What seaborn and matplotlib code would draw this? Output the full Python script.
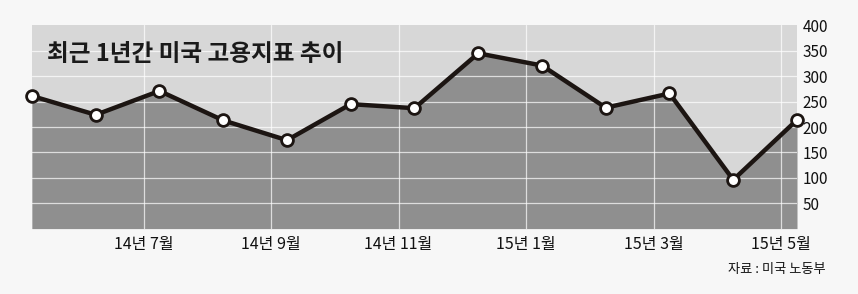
import matplotlib
matplotlib.use("Agg")
import matplotlib.pyplot as plt
import seaborn as sns
import pandas as pd
import numpy as np

months = ["14-05", "14-06", "14-07", "14-08", "14-09", "14-10", "14-11",
          "14-12", "15-01", "15-02", "15-03", "15-04", "15-05"]
values = [261, 224, 271, 213, 174, 245, 237, 345, 321, 238, 266, 96, 214]
tick_labels = ["14년 7월", "14년 9월", "14년 11월", "15년 1월", "15년 3월", "15년 5월"]
yticks = [50, 100, 150, 200, 250, 300, 350, 400]
title = "최근 1년간 미국 고용지표 추이"
source = "자료 : 미국 노동부"

sns.set_theme(style="white")
plt.rcParams['font.family'] = ['Noto Sans CJK KR', 'DejaVu Sans']

df = pd.DataFrame({"idx": np.arange(len(months)), "month": months, "value": values})

fig = plt.figure(figsize=(8.58, 2.94), dpi=100, facecolor="#f7f7f7")
ax = fig.add_axes([32/858, 1-228.6/294, (797-32)/858, (228.6-25.4)/294])
ax.set_facecolor("#d7d7d7")

ax.fill_between(df["idx"], df["value"], 0, color="#8f8f8f", zorder=1, linewidth=0)

sns.lineplot(data=df, x="idx", y="value", ax=ax, color="#1c1512", linewidth=3.2,
             marker="o", markersize=8.5, markerfacecolor="white",
             markeredgecolor="#1c1512", markeredgewidth=2.0, zorder=5, clip_on=False)

ax.set_xlim(0, len(months) - 1)
ax.set_ylim(0, 400)

# grid lines (white)
xt = [1.75 + 2 * i for i in range(len(tick_labels))]
for y in yticks[:-1]:
    ax.axhline(y, color="white", linewidth=0.9, alpha=0.7, zorder=2)
for x in xt:
    ax.axvline(x, color="white", linewidth=0.9, alpha=0.7, zorder=2)

ax.set_xticks(xt)
ax.set_xticklabels(tick_labels, fontsize=11.5, color="#111111")
ax.set_yticks(yticks)
ax.set_yticklabels([str(v) for v in yticks], fontsize=11, color="#111111")
ax.yaxis.tick_right()
ax.tick_params(axis="x", length=0, pad=5)
ax.tick_params(axis="y", length=0, pad=4)
ax.set_xlabel("")
ax.set_ylabel("")
for s in ax.spines.values():
    s.set_visible(False)

ax.text(0.02, 0.86, title, transform=ax.transAxes, fontsize=17, fontweight="bold",
        color="#1a1a1a", va="center", ha="left", zorder=6)
fig.text(826/858, 1-269/294, source, fontsize=9.5, color="#111111", ha="right", va="center")

fig.savefig("out.png", dpi=100, facecolor=fig.get_facecolor())
